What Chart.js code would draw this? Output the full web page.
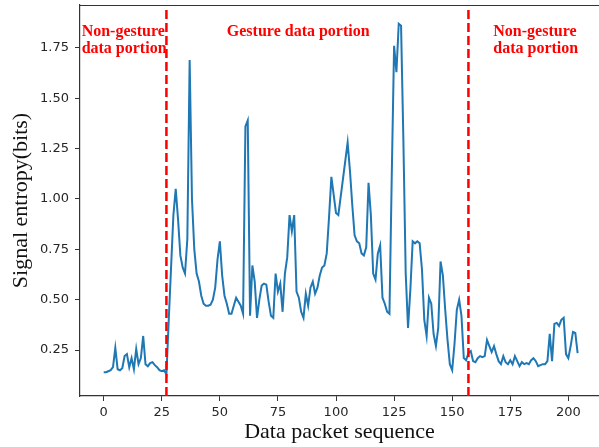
<!DOCTYPE html>
<html>
<head>
<meta charset="utf-8">
<script src="https://cdn.jsdelivr.net/npm/chart.js@4.4.1/dist/chart.umd.min.js"></script>
<style>
  html, body { margin: 0; padding: 0; background: #fff; }
  #wrap { width: 599px; height: 447px; }
</style>
</head>
<body>
<div id="wrap"><canvas id="chart" width="599" height="447"></canvas></div>
<script>
// Signal entropy per data packet (index = packet number 0..204)
const entropy = [
  0.14, 0.14, 0.145, 0.15, 0.165, 0.26, 0.155, 0.15, 0.16, 0.22,
  0.23, 0.165, 0.21, 0.155, 0.255, 0.18, 0.21, 0.32, 0.18, 0.17,
  0.185, 0.19, 0.175, 0.165, 0.15, 0.145, 0.15, 0.13, 0.40, 0.66,
  0.92, 1.05, 0.90, 0.72, 0.66, 0.63, 0.80, 1.69, 1.00, 0.75,
  0.63, 0.59, 0.52, 0.48, 0.47, 0.47, 0.475, 0.50, 0.56, 0.70,
  0.79, 0.62, 0.52, 0.48, 0.43, 0.43, 0.47, 0.51, 0.49, 0.47,
  0.43, 1.36, 1.39, 0.42, 0.67, 0.59, 0.41, 0.50, 0.57, 0.58,
  0.575, 0.49, 0.42, 0.41, 0.63, 0.54, 0.58, 0.44, 0.63, 0.71,
  0.92, 0.84, 0.92, 0.54, 0.51, 0.44, 0.41, 0.53, 0.47, 0.56,
  0.59, 0.53, 0.56, 0.62, 0.66, 0.67, 0.73, 0.91, 1.11, 1.02,
  0.93, 0.92, 1.01, 1.10, 1.19, 1.28, 1.14, 0.97, 0.82, 0.79,
  0.78, 0.73, 0.72, 0.76, 1.08, 0.92, 0.63, 0.60, 0.73, 0.77,
  0.51, 0.48, 0.44, 0.43, 1.12, 1.76, 1.63, 1.87, 1.86, 1.29,
  0.63, 0.36, 0.55, 0.79, 0.78, 0.79, 0.78, 0.65, 0.40, 0.32,
  0.51, 0.48, 0.33, 0.27, 0.36, 0.69, 0.62, 0.45, 0.30, 0.18,
  0.15, 0.28, 0.45, 0.50, 0.42, 0.21, 0.20, 0.235, 0.245, 0.195,
  0.19, 0.21, 0.22, 0.215, 0.22, 0.30, 0.27, 0.24, 0.27, 0.23,
  0.195, 0.18, 0.22, 0.19, 0.18, 0.20, 0.18, 0.22, 0.195, 0.17,
  0.19, 0.18, 0.185, 0.18, 0.20, 0.21, 0.195, 0.17, 0.175, 0.18,
  0.18, 0.195, 0.33, 0.195, 0.38, 0.385, 0.37, 0.40, 0.41, 0.23,
  0.21, 0.27, 0.34, 0.335, 0.235,
];

// Packet numbers where the gesture portion starts / ends
const boundaries = [27, 157];

const xTicks = [0, 25, 50, 75, 100, 125, 150, 175, 200];
const yTicks = [0.25, 0.5, 0.75, 1.0, 1.25, 1.5, 1.75];

const leftLabel = ["Non-gesture", "data portion"];
const midLabel = ["Gesture data portion"];
const rightLabel = ["Non-gesture", "data portion"];

const xRange = [-10.2, 213.2];
const yRange = [0.022, 1.963];

const INK = "#262626";
const RED = "#ff0000";

// top spine + red region captions
const extras = {
  id: "extras",
  afterDatasetsDraw(chart) {
    const { ctx, chartArea: a, scales: { x, y } } = chart;
    ctx.save();
    ctx.strokeStyle = "#333";
    ctx.lineWidth = 1.2;
    ctx.beginPath();
    ctx.moveTo(a.left, a.top + 0.5);
    ctx.lineTo(a.right, a.top + 0.5);
    ctx.stroke();

    ctx.fillStyle = RED;
    ctx.font = "bold 16px 'Liberation Serif', 'Times New Roman', serif";
    ctx.textBaseline = "middle";
    ctx.textAlign = "left";
    const r1 = y.getPixelForValue(1.83);
    const r2 = y.getPixelForValue(1.745);
    ctx.fillText(leftLabel[0], x.getPixelForValue(-9.5), r1);
    ctx.fillText(leftLabel[1], x.getPixelForValue(-9.5), r2);
    ctx.fillText(midLabel[0], x.getPixelForValue(53), r1);
    ctx.fillText(rightLabel[0], x.getPixelForValue(167.7), r1);
    ctx.fillText(rightLabel[1], x.getPixelForValue(167.7), r2);
    ctx.restore();
  },
};

const vline = (v) => ({
  data: [{ x: v, y: yRange[0] }, { x: v, y: yRange[1] }],
  borderColor: RED,
  borderWidth: 2.5,
  borderDash: [9, 4],
  pointRadius: 0,
  order: 0,
});

function noPad(s) {
  s.paddingTop = 0; s.paddingBottom = 0;
  s.paddingLeft = 0; s.paddingRight = 0;
}

new Chart(document.getElementById("chart"), {
  type: "line",
  data: {
    datasets: [
      ...boundaries.map(vline),
      {
        data: entropy.map((v, i) => ({ x: i, y: v })),
        borderColor: "#1f77b4",
        borderWidth: 2,
        pointRadius: 0,
        tension: 0,
        order: 1,
      },
    ],
  },
  options: {
    responsive: false,
    animation: false,
    devicePixelRatio: 1,
    layout: { padding: { top: 5, right: 0, left: 0, bottom: 0 } },
    plugins: { legend: { display: false }, tooltip: { enabled: false } },
    scales: {
      x: {
        type: "linear",
        min: xRange[0],
        max: xRange[1],
        afterBuildTicks: (s) => { s.ticks = xTicks.map((v) => ({ value: v })); },
        afterFit: (s) => { s.height = 51; noPad(s); },
        grid: { drawOnChartArea: false, drawTicks: true, tickLength: 5, color: "#333" },
        border: { display: true, color: "#333", width: 1.2 },
        ticks: {
          color: INK, padding: 4, maxRotation: 0,
          font: { family: "'DejaVu Sans'", size: 13 },
        },
        title: {
          display: true,
          text: "Data packet sequence",
          color: "#111",
          font: { family: "'Liberation Serif'", size: 22 },
          padding: { top: 0, bottom: 2 },
        },
      },
      y: {
        min: yRange[0],
        max: yRange[1],
        afterBuildTicks: (s) => { s.ticks = yTicks.map((v) => ({ value: v })); },
        afterFit: (s) => { s.width = 80; noPad(s); },
        grid: { drawOnChartArea: false, drawTicks: true, tickLength: 5, color: "#333" },
        border: { display: true, color: "#333", width: 1.2 },
        ticks: {
          color: INK, padding: 6,
          font: { family: "'DejaVu Sans'", size: 13 },
          callback: (v) => Number(v).toFixed(2),
        },
        title: {
          display: true,
          text: "Signal entropy(bits)",
          color: "#111",
          font: { family: "'Liberation Serif'", size: 22 },
          padding: { top: 8, bottom: 0 },
        },
      },
    },
  },
  plugins: [extras],
});
</script>
</body>
</html>
